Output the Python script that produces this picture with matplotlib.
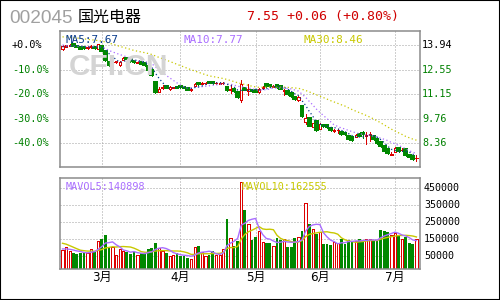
import matplotlib
matplotlib.use('Agg')
from matplotlib import pyplot as plt
from matplotlib import transforms
import numpy as np
import pandas as pd

# header texts
code = '002045'
name = '国光电器'
quote = '7.55 +0.06 (+0.80%)'
ma_labels = ['MA5:7.67', 'MA10:7.77', 'MA30:8.46']
mavol_labels = ['MAVOL5:140898', 'MAVOL10:162555']

# axis scales
base_price = 13.94
pct_ticks = [0, -10, -20, -30, -40]
vol_ticks = [450000, 350000, 250000, 150000, 50000]
month_labels = ['3月', '4月', '5月', '6月', '7月']
month_start = [11, 33, 54, 72, 93]

# daily candles
opens = [13.72, 13.85, 13.90, 13.98, 13.90, 13.84, 13.80, 13.78, 13.80, 13.84,
         13.74, 13.90, 13.58, 12.98, 12.96, 12.98, 12.82, 13.10, 13.22, 13.14,
         13.02, 12.92, 13.00, 12.90, 12.72, 12.50, 11.82, 11.30, 11.52, 11.62,
         11.42, 11.52, 11.58, 11.60, 11.56, 11.50, 11.38, 11.64, 11.80, 11.74,
         11.76, 11.86, 11.82, 11.76, 11.72, 11.76, 11.56, 11.36, 11.46, 11.25,
         10.84, 11.52, 11.34, 11.38, 11.36, 11.26, 11.50, 11.72, 11.68, 11.58,
         11.66, 11.60, 11.32, 11.34, 11.20, 11.00, 10.80, 10.50, 9.56, 9.78,
         9.30, 9.60, 9.20, 9.42, 9.38, 9.22, 9.06, 9.10, 8.98, 8.96,
         8.80, 8.72, 8.74, 8.86, 8.94, 8.78, 8.82, 8.76, 8.62, 8.42,
         8.22, 8.06, 7.72, 7.86, 8.08, 7.96, 8.04, 7.72, 7.62, 7.52]
closes = [13.88, 13.92, 13.96, 13.90, 13.84, 13.74, 13.76, 13.84, 13.88, 13.78,
          13.98, 13.62, 13.08, 12.80, 13.00, 13.02, 12.98, 13.20, 13.16, 13.04,
          12.98, 12.98, 12.88, 12.78, 12.50, 12.22, 11.30, 11.44, 11.56, 11.52,
          11.56, 11.55, 11.52, 11.54, 11.52, 11.40, 11.42, 11.74, 11.72, 11.78,
          11.80, 11.80, 11.78, 11.80, 11.80, 11.80, 11.38, 11.44, 11.32, 10.98,
          11.70, 11.40, 11.42, 11.32, 11.30, 11.46, 11.58, 11.60, 11.60, 11.64,
          11.56, 11.46, 11.36, 11.16, 11.02, 10.86, 10.98, 9.90, 9.80, 9.36,
          9.50, 9.12, 9.48, 9.32, 9.26, 9.12, 9.10, 9.14, 8.86, 8.86,
          8.60, 8.52, 8.82, 8.80, 8.90, 8.82, 8.86, 8.60, 8.38, 8.20,
          7.95, 7.80, 7.76, 8.10, 7.90, 8.00, 7.70, 7.61, 7.49, 7.55]
highs = [13.92, 13.96, 14.00, 14.02, 13.93, 13.86, 13.82, 13.90, 13.92, 13.86,
         14.00, 13.92, 13.60, 13.00, 13.04, 13.06, 13.02, 13.24, 13.26, 13.16,
         13.06, 13.02, 13.02, 12.92, 12.74, 12.52, 11.86, 11.56, 11.66, 11.64,
         11.60, 11.58, 11.60, 11.62, 11.58, 11.52, 11.48, 11.78, 11.82, 11.82,
         11.84, 11.90, 11.84, 11.84, 11.84, 11.84, 11.58, 11.72, 11.48, 11.28,
         11.98, 11.56, 11.72, 11.42, 11.40, 11.50, 11.62, 11.76, 11.70, 11.68,
         11.68, 11.62, 11.44, 11.36, 11.22, 11.02, 11.02, 10.52, 10.00, 9.80,
         9.54, 9.62, 9.52, 9.44, 9.40, 9.24, 9.16, 9.20, 9.00, 8.98,
         8.82, 8.74, 8.86, 8.88, 9.06, 9.00, 8.98, 8.78, 8.64, 8.44,
         8.24, 8.08, 7.84, 8.14, 8.10, 8.08, 8.06, 7.74, 7.64, 7.70]
lows = [13.68, 13.82, 13.88, 13.86, 13.80, 13.70, 13.72, 13.72, 13.78, 13.74,
        13.72, 13.60, 13.02, 12.76, 12.90, 12.94, 12.76, 13.08, 13.12, 13.00,
        12.94, 12.90, 12.84, 12.74, 12.46, 12.18, 11.24, 11.27, 11.46, 11.48,
        11.40, 11.48, 11.48, 11.50, 11.48, 11.36, 11.34, 11.62, 11.68, 11.72,
        11.74, 11.78, 11.74, 11.72, 11.70, 11.72, 11.34, 11.20, 11.28, 10.94,
        10.72, 11.36, 11.10, 11.28, 11.26, 11.24, 11.46, 11.56, 11.56, 11.54,
        11.52, 11.42, 11.10, 11.12, 10.98, 10.82, 10.76, 9.86, 9.44, 9.32,
        9.26, 9.08, 9.16, 9.28, 9.22, 9.08, 8.98, 8.96, 8.82, 8.82,
        8.56, 8.48, 8.70, 8.76, 8.64, 8.30, 8.50, 8.56, 8.34, 8.16,
        7.90, 7.76, 7.68, 7.84, 7.86, 7.92, 7.66, 7.58, 7.44, 7.34]
volumes = [85000, 101000, 81000, 70000, 62000, 70000, 70000, 70000, 90000, 78000,
           139000, 151000, 175000, 101000, 101000, 54000, 91000, 80000, 75000, 62000,
           72000, 57000, 65000, 65000, 90000, 98000, 127000, 100000, 80000, 65000,
           50000, 55000, 65000, 52000, 50000, 40000, 35000, 101000, 110000, 75000,
           50000, 55000, 78000, 55000, 58000, 92000, 270000, 155000, 111000, 141000,
           487000, 323000, 240000, 145000, 165000, 198000, 135000, 125000, 124000, 110000,
           155000, 143000, 150000, 105000, 103000, 158000, 160000, 198000, 362000, 240000,
           208000, 179000, 190000, 119000, 118000, 112000, 135000, 125000, 150000, 122000,
           145000, 138000, 140000, 150000, 135000, 148000, 150000, 140000, 145000, 205000,
           200000, 190000, 175000, 185000, 171000, 150000, 160000, 125000, 118000, 151000]

# sessions before the visible window, only feed the moving averages
pre_closes = [14.30, 14.36, 14.42, 14.50, 14.46, 14.55, 14.60, 14.52, 14.58, 14.62,
              14.55, 14.60, 14.62, 14.75, 14.90, 14.95, 14.88, 14.80, 14.85, 14.84,
              14.30, 14.10, 14.00, 13.95, 13.88, 13.86, 13.84, 13.80, 13.82]
pre_volumes = [150000, 170000, 160000, 155000, 157000, 100000, 92000, 90000, 90500]

RED = '#dd0000'
GREEN = '#008800'
FRAME = '#8c8c8c'
GRID = '#a0a0a0'
C_MA5 = '#0a3c8c'
C_MA10 = '#aa6eff'
C_MA30 = '#c8c800'

W, H = 500, 300
def fx(x):
    return x / W
def fy(y):
    return 1 - y / H

n = len(closes)
idx = np.arange(n)
o = np.array(opens)
c = np.array(closes)
up = c >= o
col = np.where(up, RED, GREEN)
face = np.where(up, 'white', GREEN)
edge_w = np.where(up, 0.6, 0.0)

close_all = pd.Series(pre_closes + closes)
vol_all = pd.Series(pre_volumes + volumes)
np_c = len(pre_closes)
np_v = len(pre_volumes)
ma5 = close_all.rolling(5).mean().values[np_c:]
ma10 = close_all.rolling(10).mean().values[np_c:]
ma30 = close_all.rolling(30).mean().values[np_c:]
mavol5 = vol_all.rolling(5).mean().values[np_v:]
mavol10 = vol_all.rolling(10).mean().values[np_v:]

fig = plt.figure(figsize=(5, 3), dpi=100)
fig.patch.set_facecolor('white')
ax = fig.add_axes([fx(60), fy(167), fx(360), 136 / H])
axv = fig.add_axes([fx(60), fy(269), fx(360), 91 / H])

grid_prices = [base_price * (1 + p / 100) for p in pct_ticks]
xlim = (-0.7, 100.0)
dots = (0, (1, 2))
bw_up = 0.62
bw_dn = 0.78
bw = np.where(up, bw_up, bw_dn)

# price panel
ax.set_xlim(*xlim)
ax.set_ylim(7.015, 14.735)
for gp in grid_prices:
    ax.axhline(gp, color=GRID, lw=0.72, ls=dots, zorder=0)
for m in month_start:
    ax.axvline(m, color=GRID, lw=0.72, ls=dots, zorder=0)

fig.text(fx(69), fy(75), 'CFI.CN', family='Liberation Sans', weight='bold',
         fontsize=21.5, color='#d4d4d4', va='baseline', ha='left', zorder=0)

ax.vlines(idx, lows, highs, colors=col, lw=0.72, antialiased=False, zorder=2)
body_h = np.where(np.abs(c - o) < 0.005, 0.005, c - o)
ax.bar(idx, body_h, bottom=o, width=bw, facecolor=face,
       edgecolor=col, linewidth=np.where(up, 0.6, 0.3), antialiased=False, zorder=3)

ax.plot(idx, ma30, color=C_MA30, lw=0.9, ls=dots, zorder=4)
ax.plot(idx, ma10, color=C_MA10, lw=0.9, ls=dots, zorder=4)
ax.plot(idx, ma5, color=C_MA5, lw=0.9, ls=dots, zorder=4)

for a in (ax, axv):
    a.set_xticks([])
    a.set_yticks([])
    for s in a.spines.values():
        s.set_color(FRAME)
        s.set_linewidth(1.1)

# percent labels on the left, prices on the right
tl = transforms.blended_transform_factory(fig.transFigure, ax.transData)
for p, gp in zip(pct_ticks, grid_prices):
    lab = '+0.0%' if p == 0 else '%.1f%%' % p
    clr = 'black' if p == 0 else '#008000'
    ax.text(fx(12), gp, lab, transform=tl, family='DejaVu Sans Mono', fontsize=7.3,
            color=clr, ha='left', va='center')
    ax.text(fx(422), gp, '%.2f' % gp, transform=tl, family='DejaVu Sans Mono',
            fontsize=7.3, color=clr, ha='left', va='center')

for lab, xp, clr in zip(ma_labels, [66, 184, 303], [C_MA5, C_MA10, C_MA30]):
    fig.text(fx(xp), fy(43), lab, family='DejaVu Sans Mono', fontsize=7.9,
             color=clr, ha='left', va='baseline')

# volume panel
vfloor = -27000
axv.set_xlim(*xlim)
axv.set_ylim(vfloor, 511000)
for vt in vol_ticks:
    axv.axhline(vt, color=GRID, lw=0.72, ls=dots, zorder=0)
for m in month_start:
    axv.axvline(m, color=GRID, lw=0.72, ls=dots, zorder=0)
vol = np.array(volumes)
axv.bar(idx, vol - vfloor, bottom=vfloor, width=bw, facecolor=face,
        edgecolor=col, linewidth=edge_w, antialiased=False, zorder=2)
axv.plot(idx, mavol10, color=C_MA30, lw=1.0, zorder=3)
axv.plot(idx, mavol5, color=C_MA10, lw=1.0, zorder=3)

tv = transforms.blended_transform_factory(fig.transFigure, axv.transData)
for vt in vol_ticks:
    axv.text(fx(424), vt, str(vt), transform=tv, family='DejaVu Sans Mono',
             fontsize=7.2, color='black', ha='left', va='center')
for lab, xp, clr in zip(mavol_labels, [66, 242], [C_MA10, C_MA30]):
    fig.text(fx(xp), fy(190), lab, family='DejaVu Sans Mono', fontsize=7.3,
             color=clr, ha='left', va='baseline')

tm = transforms.blended_transform_factory(axv.transData, fig.transFigure)
for lab, m in zip(month_labels, month_start):
    axv.text(m, fy(277), lab, transform=tm, family=['DejaVu Sans', 'Noto Sans CJK SC'],
             fontsize=8.6, color='black', ha='center', va='center')

# header
fig.text(fx(9), fy(23.3), code, family='Liberation Sans', fontsize=13.7,
         color='#a0a0a0', ha='left', va='baseline')
fig.text(fx(78), fy(21.5), name, family='Noto Sans CJK SC', fontsize=11.5,
         color='black', ha='left', va='baseline')
fig.text(fx(247), fy(20), quote, family='DejaVu Sans Mono', fontsize=9.5,
         color='#d00000', ha='left', va='baseline')

fig.add_artist(plt.Rectangle((0, 0), 1, 1, transform=fig.transFigure, fill=False,
                             edgecolor='black', linewidth=1.5))

fig.savefig('out.png', dpi=100)
plt.close()
